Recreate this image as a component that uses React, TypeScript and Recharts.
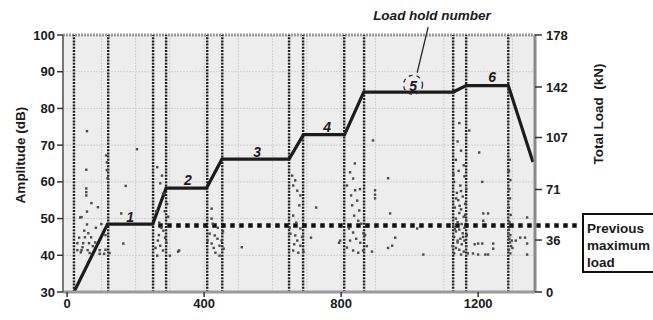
import React from 'react';
import {
  ComposedChart, XAxis, YAxis, CartesianGrid, Line, Scatter, ReferenceLine, ReferenceDot,
} from 'recharts';

// Load history (time s, total load kN)
const loadTime = [20, 118, 250, 289, 407, 452, 648, 690, 810, 866, 1127, 1165, 1288, 1360];
const loadKN = [0, 47, 47, 72, 72, 92, 92, 109, 109, 138.5, 138.5, 143, 143, 90];

// Vertical dotted markers (start / end of each load ramp)
const rampMarks = [20, 120, 251, 289, 409, 453, 648, 689, 809, 867, 1127, 1165, 1288];

// Previous maximum load (kN)
const prevMaxLoad = 46;

// Tick labels
const xTicks = [0, 400, 800, 1200];
const ampTicks = [30, 40, 50, 60, 70, 80, 90, 100];
const loadTicks = [0, 36, 71, 107, 142, 178];

// Load hold labels: [time, kN, label]
const holdLabels: [number, number, string][] = [
  [184, 52, '1'], [353, 77.6, '2'], [555, 97, '3'], [759, 114, '4'], [1010, 142.6, '5'], [1241, 149, '6'],
];

// AE hits [time, amplitude dB]
const hitsRamp1: [number, number][] = [
  [58, 73.8], [56, 63.3], [56, 58.2], [56, 57.2], [56, 56.3], [71, 54.2], [90, 53.1], [58, 51.9], [42, 50.4],
  [38, 50.3], [58, 48.4], [50, 46.7], [62, 46], [35, 44.8], [52, 44.9], [70, 44.9], [30, 43.3], [47, 43.3],
  [64, 43.3], [82, 43.5], [30, 41.4], [42, 41.4], [60, 41.4], [95, 41.4], [112, 41.5], [95, 40.4], [108, 40.4],
  [124, 40.6], [45, 42.2], [75, 42.5], [116, 65.3], [116, 63.2], [114, 67.2], [118, 61], [112, 45.5], [40, 40.8],
  [66, 40.6], [84, 47.5], [100, 48.5], [171, 58.9], [158, 51.4], [164, 43.2], [204, 68.9],
];
const hitsRamp2: [number, number][] = [
  [263, 64], [277, 61.7], [272, 59.6], [281, 56.8], [292, 54], [285, 52], [269, 48.9], [281, 46.7], [275, 47.5],
  [265, 44], [272, 42.6], [280, 41.3], [263, 39.9], [290, 43.5], [300, 39.9], [268, 45.5], [286, 44.8], [258, 42],
  [327, 41.3], [295, 50.5], [260, 52],
];
const hitsRamp3: [number, number][] = [
  [422, 52.7], [422, 50], [425, 48.6], [416, 45.9], [431, 45.4], [439, 44.5], [451, 44], [422, 43.2], [445, 42.6],
  [457, 41.8], [433, 40.7], [445, 39.9], [410, 44], [440, 47.5], [510, 42.2], [324, 41], [455, 46.5], [428, 42],
];
const hitsRamp4: [number, number][] = [
  [657, 61.7], [666, 60.4], [660, 59], [672, 57.6], [681, 56.3], [678, 53.6], [660, 50.8], [669, 48.9], [681, 47.3],
  [652, 45.9], [666, 45.4], [672, 44], [681, 42.6], [660, 41.3], [675, 40.7], [690, 41], [686, 45], [663, 43],
  [727, 53], [712, 44.8], [650, 47.5],
];
const hitsRamp5: [number, number][] = [
  [826, 62.6], [835, 60.9], [817, 59], [841, 57.7], [829, 56.3], [847, 54.9], [832, 53.6], [853, 52.2], [838, 50.8],
  [850, 49.4], [859, 48.6], [823, 47.3], [835, 46.2], [844, 44.5], [826, 44], [856, 43.4], [817, 42.1], [835, 41.3],
  [850, 40.7], [864, 41.3], [865, 46], [840, 65], [855, 58], [794, 43.4], [797, 44], [893, 71.3], [937, 61],
  [899, 57.7], [899, 56.5], [899, 55.5], [937, 42], [890, 41], [943, 51.4], [958, 44.8], [949, 42.6], [1040, 40.2],
  [1022, 47.3], [870, 45.5], [875, 42.5],
];
const hitsRamp6: [number, number][] = [
  [1145, 76], [1174, 74], [1140, 71], [1150, 68.5], [1135, 66], [1158, 64.5], [1143, 63], [1160, 61.5], [1130, 60],
  [1148, 59], [1165, 58], [1138, 57], [1155, 56], [1142, 55], [1162, 54], [1132, 53], [1150, 52.5], [1145, 51.5],
  [1158, 50.5], [1135, 50], [1165, 49.5], [1140, 49], [1152, 48.5], [1128, 48], [1160, 47.5], [1145, 47],
  [1135, 46.5], [1155, 46], [1167, 45.5], [1130, 45], [1148, 44.5], [1160, 44], [1140, 43.5], [1152, 43],
  [1125, 42.5], [1165, 42.5], [1135, 42], [1145, 41.5], [1158, 41], [1130, 40.5], [1150, 40.2], [1170, 40.5],
  [1140, 44], [1156, 45], [1132, 47.2], [1162, 51], [1146, 53.5], [1136, 55.5], [1150, 57.5], [1128, 62],
  [1203, 68], [1212, 60], [1215, 51.4], [1229, 51.4], [1215, 49.4], [1200, 43.2], [1212, 43.2], [1244, 43.2],
  [1244, 41.8], [1200, 40.2], [1221, 40.2], [1229, 40.2], [1185, 40.5], [1190, 43],
];
const hitsRamp7: [number, number][] = [
  [1292, 66], [1290, 63], [1294, 60.5], [1291, 58], [1293, 55.5], [1290, 53], [1295, 51], [1292, 49], [1290, 47],
  [1294, 45.5], [1291, 44.5], [1293, 43.5], [1296, 42.5], [1290, 41.5], [1294, 40.5], [1298, 44], [1300, 42],
  [1288, 46], [1323, 44.8], [1337, 44.8], [1343, 50.3], [1343, 43.2], [1343, 40.2], [1310, 44],
];

const loadData = loadTime.map((t, i) => ({ t, kN: loadKN[i] }));
const hitData = [...hitsRamp1, ...hitsRamp2, ...hitsRamp3, ...hitsRamp4, ...hitsRamp5, ...hitsRamp6, ...hitsRamp7]
  .map(([t, db]) => ({ t, db }));

const gridH = [35, 45, 55, 65, 75, 85, 95, 40, 50, 60, 70, 80, 90];
const gridV = [100, 200, 300, 400, 500, 600, 700, 800, 900, 1000, 1100, 1200, 1300];

const FONT = '"Liberation Sans", Arial, Helvetica, sans-serif';
const tickStyle = { fontFamily: FONT, fontSize: 13, fontWeight: 700, fill: '#1a1a1a' };

const HitShape = (p: any) => (
  <rect x={p.cx - 1.2} y={p.cy - 1.2} width={2.4} height={2.4} fill="#4a4a4a" />
);

export default function App() {
  return (
    <div style={{ position: 'absolute', left: 0, top: 0, width: 653, height: 320, background: '#fff' }}>
      <ComposedChart width={653} height={320} margin={{ top: 35, right: 0, bottom: 0, left: 0 }}>
        <CartesianGrid
          yAxisId="amp"
          fill="#ededed"
          stroke="#d0d0d0"
          strokeDasharray="2 1"
          horizontalValues={gridH}
          verticalValues={gridV}
        />
        <XAxis
          dataKey="t"
          type="number"
          domain={[-12, 1366]}
          ticks={xTicks}
          height={28}
          tick={tickStyle}
          tickSize={5}
          axisLine={{ stroke: '#9a9a9a', strokeWidth: 3 }}
          tickLine={{ stroke: '#333', strokeWidth: 1.5 }}
          allowDataOverflow
        />
        <YAxis
          yAxisId="amp"
          domain={[30, 100]}
          ticks={ampTicks}
          width={63}
          tick={tickStyle}
          tickSize={6}
          axisLine={{ stroke: '#777', strokeWidth: 2 }}
          tickLine={{ stroke: '#333', strokeWidth: 1.5 }}
          allowDataOverflow
        />
        <YAxis
          yAxisId="load"
          orientation="right"
          domain={[0, 178]}
          ticks={loadTicks}
          width={118}
          tick={tickStyle}
          tickSize={7}
          tickMargin={4}
          axisLine={{ stroke: '#8a8a8a', strokeWidth: 3 }}
          tickLine={{ stroke: '#333', strokeWidth: 1.5 }}
          allowDataOverflow
        />
        <ReferenceLine yAxisId="amp" y={100} stroke="#9a9a9a" strokeWidth={3} strokeDasharray="2 1" />
        {rampMarks.map((x) => (
          <ReferenceLine key={x} yAxisId="amp" x={x} stroke="#1e1e1e" strokeWidth={2.4} strokeDasharray="2 1.2" />
        ))}
        <Scatter yAxisId="amp" data={hitData} dataKey="db" shape={HitShape} isAnimationActive={false} />
        <ReferenceLine
          yAxisId="load"
          segment={[{ x: 266, y: prevMaxLoad }, { x: 1489, y: prevMaxLoad }]}
          stroke="#111"
          strokeWidth={4.5}
          strokeDasharray="4.5 4.5"
          ifOverflow="visible"
        />
        <Line
          yAxisId="load"
          data={loadData}
          dataKey="kN"
          stroke="#1c1c1c"
          strokeWidth={3.2}
          dot={false}
          isAnimationActive={false}
        />
        {holdLabels.map(([x, y, s]) => (
          <ReferenceDot
            key={s}
            yAxisId="load"
            x={x}
            y={y}
            r={1}
            ifOverflow="visible"
            shape={(p: any) => (
              <text
                x={p.cx}
                y={p.cy}
                textAnchor="middle"
                dominantBaseline="central"
                fontFamily={FONT}
                fontSize={14}
                fontWeight={700}
                fontStyle="italic"
                fill="#1a1a1a"
              >
                {s}
              </text>
            )}
          />
        ))}
        <ReferenceDot
          yAxisId="load"
          x={1010}
          y={143.5}
          r={9.5}
          fill="none"
          stroke="#333"
          strokeWidth={1.3}
          strokeDasharray="4 4"
          ifOverflow="visible"
        />
        <ReferenceLine
          yAxisId="load"
          segment={[{ x: 1054, y: 183.5 }, { x: 1022, y: 152 }]}
          stroke="#222"
          strokeWidth={1.3}
          ifOverflow="visible"
        />
      </ComposedChart>
      <svg
        width={653}
        height={320}
        style={{ position: 'absolute', left: 0, top: 0, pointerEvents: 'none' }}
      >
        <text
          x={20}
          y={155}
          transform="rotate(-90 20 155)"
          textAnchor="middle"
          dominantBaseline="central"
          fontFamily={FONT}
          fontSize={13.5}
          fontWeight={700}
          fill="#1a1a1a"
        >
          Amplitude (dB)
        </text>
        <text
          x={598}
          y={114}
          transform="rotate(-90 598 114)"
          textAnchor="middle"
          dominantBaseline="central"
          fontFamily={FONT}
          fontSize={13.5}
          fontWeight={700}
          fill="#1a1a1a"
          style={{ whiteSpace: 'pre' }}
        >
          {'Total Load  (kN)'}
        </text>
        <text
          x={432}
          y={15}
          textAnchor="middle"
          dominantBaseline="central"
          fontFamily={FONT}
          fontSize={13.5}
          fontWeight={700}
          fontStyle="italic"
          fill="#1a1a1a"
        >
          Load hold number
        </text>
        <rect x={583} y={214} width={76} height={58} fill="#fff" stroke="#111" strokeWidth={2} />
        {['Previous', 'maximum', 'load'].map((s, i) => (
          <text
            key={s}
            x={587}
            y={228 + i * 17}
            dominantBaseline="central"
            fontFamily={FONT}
            fontSize={13.5}
            fontWeight={700}
            fill="#1a1a1a"
          >
            {s}
          </text>
        ))}
      </svg>
    </div>
  );
}
